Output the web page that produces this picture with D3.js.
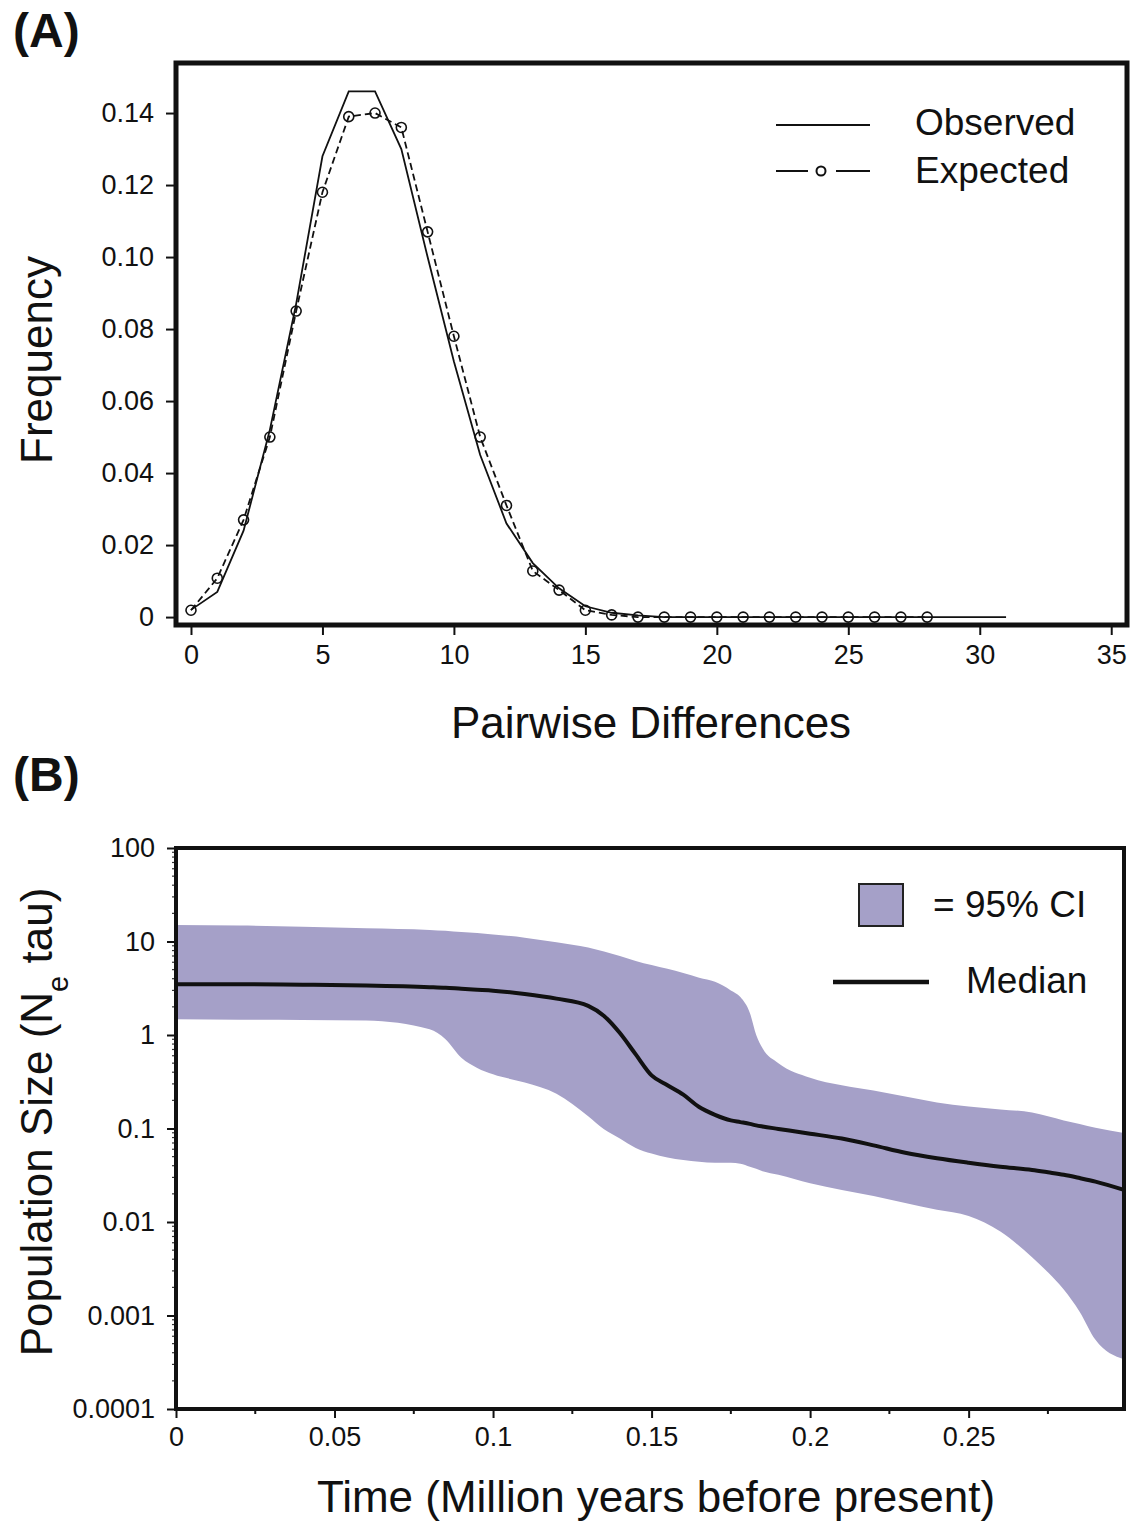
<!DOCTYPE html>
<html>
<head>
<meta charset="utf-8">
<script src="https://cdn.jsdelivr.net/npm/d3@7"></script>
<style>
  body { margin: 0; background: #fff; }
  svg text { font-family: "Liberation Sans", Arial, sans-serif; fill: #111; }
</style>
</head>
<body>
<svg id="chart" width="1142" height="1523"></svg>
<script>
'use strict';

// panel A: mismatch distribution
var pairDiffObs = d3.range(0, 32);
var observed = [0.002, 0.007, 0.024, 0.052, 0.087, 0.128, 0.146, 0.146, 0.130, 0.100,
  0.071, 0.045, 0.026, 0.015, 0.008, 0.003, 0.0012, 0.0005, 0, 0,
  0, 0, 0, 0, 0, 0, 0, 0, 0, 0, 0, 0];
var pairDiffExp = d3.range(0, 29);
var expected = [0.0019, 0.0108, 0.027, 0.050, 0.085, 0.118, 0.139, 0.140, 0.136, 0.107,
  0.078, 0.050, 0.031, 0.0128, 0.0075, 0.0019, 0.0006, 0, 0, 0,
  0, 0, 0, 0, 0, 0, 0, 0, 0];
var freqTicks = [0, 0.02, 0.04, 0.06, 0.08, 0.10, 0.12, 0.14];
var diffTicks = [0, 5, 10, 15, 20, 25, 30, 35];

// panel B: skyline plot
var timeGrid = [0, 0.02, 0.04, 0.06, 0.08, 0.085, 0.09, 0.095, 0.10, 0.11,
  0.12, 0.13, 0.135, 0.14, 0.145, 0.15, 0.155, 0.16, 0.165, 0.17,
  0.175, 0.178, 0.181, 0.183, 0.185, 0.19, 0.20, 0.21, 0.22, 0.23,
  0.24, 0.25, 0.26, 0.27, 0.275, 0.28, 0.285, 0.29, 0.299];
var ciUpper = [15.0, 14.8, 14.4, 13.9, 13.3, 13.0, 12.6, 12.3, 11.9, 11.0,
  9.8, 8.6, 7.8, 7.0, 6.2, 5.6, 5.1, 4.6, 4.1, 3.7,
  3.0, 2.55, 1.72, 1.0, 0.72, 0.50, 0.35, 0.29, 0.255, 0.22,
  0.19, 0.172, 0.16, 0.148, 0.135, 0.122, 0.112, 0.102, 0.0895];
var ciLower = [1.47, 1.46, 1.45, 1.43, 1.15, 0.9, 0.57, 0.445, 0.38, 0.31,
  0.235, 0.135, 0.098, 0.078, 0.062, 0.054, 0.049, 0.046, 0.044, 0.043,
  0.043, 0.042, 0.039, 0.037, 0.035, 0.032, 0.026, 0.022, 0.019, 0.016,
  0.0135, 0.0116, 0.0079, 0.0042, 0.0029, 0.0019, 0.0011, 0.00055, 0.00034];
var median = [3.5, 3.5, 3.45, 3.38, 3.25, 3.2, 3.12, 3.05, 2.98, 2.75,
  2.45, 2.05, 1.6, 1.05, 0.62, 0.37, 0.29, 0.23, 0.17, 0.14,
  0.122, 0.117, 0.112, 0.108, 0.105, 0.099, 0.088, 0.078, 0.066, 0.055,
  0.048, 0.043, 0.039, 0.036, 0.034, 0.032, 0.0295, 0.027, 0.022];
var sizeTicks = [0.0001, 0.001, 0.01, 0.1, 1, 10, 100];
var sizeTickLabels = ['0.0001', '0.001', '0.01', '0.1', '1', '10', '100'];
var timeTicks = [0, 0.05, 0.1, 0.15, 0.2, 0.25];
var timeMinorTicks = [0.025, 0.075, 0.125, 0.175, 0.225, 0.275];

var svg = d3.select('#chart');
var ciColor = '#a5a0c8';

function drawPanelA() {
  var x = d3.scaleLinear().domain([-0.57, 35.6]).range([176, 1127]);
  var y = d3.scaleLinear().domain([-0.0022, 0.1539]).range([625, 63]);
  var g = svg.append('g');

  var yAxis = g.append('g')
    .attr('transform', 'translate(176,0)')
    .call(d3.axisLeft(y).tickValues(freqTicks).tickSize(10).tickPadding(12)
      .tickFormat(function (d) { return d === 0 ? '0' : d3.format('.2f')(d); }));
  var xAxis = g.append('g')
    .attr('transform', 'translate(0,625)')
    .call(d3.axisBottom(x).tickValues(diffTicks).tickSize(10).tickPadding(10));
  [yAxis, xAxis].forEach(function (a) {
    a.select('.domain').remove();
    a.selectAll('line').attr('stroke', '#111').attr('stroke-width', 2);
    a.selectAll('text').style('font-size', '27px').attr('fill', '#111');
  });

  var obsLine = d3.line()
    .x(function (d, i) { return x(pairDiffObs[i]); })
    .y(function (d) { return y(d); });
  g.append('path')
    .attr('d', obsLine(observed))
    .attr('fill', 'none').attr('stroke', '#111').attr('stroke-width', 1.8);

  var expLine = d3.line()
    .x(function (d, i) { return x(pairDiffExp[i]); })
    .y(function (d) { return y(d); });
  g.append('path')
    .attr('d', expLine(expected))
    .attr('fill', 'none').attr('stroke', '#111').attr('stroke-width', 1.8)
    .attr('stroke-dasharray', '7,4');
  g.selectAll('circle.exp').data(expected).enter().append('circle')
    .attr('class', 'exp')
    .attr('cx', function (d, i) { return x(pairDiffExp[i]); })
    .attr('cy', function (d) { return y(d); })
    .attr('r', 5)
    .attr('fill', 'none').attr('stroke', '#111').attr('stroke-width', 1.6);

  // frame
  g.append('rect')
    .attr('x', 176).attr('y', 63).attr('width', 951).attr('height', 562)
    .attr('fill', 'none').attr('stroke', '#111').attr('stroke-width', 5);

  // legend
  g.append('line').attr('x1', 776).attr('x2', 870).attr('y1', 125).attr('y2', 125)
    .attr('stroke', '#111').attr('stroke-width', 2);
  g.append('text').attr('x', 915).attr('y', 135).style('font-size', '37px').text('Observed');
  g.append('line').attr('x1', 776).attr('x2', 808).attr('y1', 171).attr('y2', 171)
    .attr('stroke', '#111').attr('stroke-width', 2);
  g.append('line').attr('x1', 836).attr('x2', 870).attr('y1', 171).attr('y2', 171)
    .attr('stroke', '#111').attr('stroke-width', 2);
  g.append('circle').attr('cx', 821).attr('cy', 171).attr('r', 4.5)
    .attr('fill', 'none').attr('stroke', '#111').attr('stroke-width', 2);
  g.append('text').attr('x', 915).attr('y', 183).style('font-size', '37px').text('Expected');

  // titles
  g.append('text').attr('x', 651).attr('y', 738).attr('text-anchor', 'middle')
    .style('font-size', '44px').text('Pairwise Differences');
  g.append('text').attr('transform', 'translate(52,360) rotate(-90)')
    .attr('text-anchor', 'middle').style('font-size', '44px').text('Frequency');
  g.append('text').attr('x', 13).attr('y', 47)
    .style('font-size', '48px').style('font-weight', 'bold').text('(A)');
}

function drawPanelB() {
  var x = d3.scaleLinear().domain([0, 0.299]).range([176, 1124]);
  var y = d3.scaleLog().domain([0.0001, 100]).range([1409, 848]);
  var g = svg.append('g');

  var band = d3.area()
    .x(function (d, i) { return x(timeGrid[i]); })
    .y0(function (d, i) { return y(ciLower[i]); })
    .y1(function (d, i) { return y(ciUpper[i]); })
    .curve(d3.curveMonotoneX);
  g.append('path').attr('d', band(timeGrid)).attr('fill', ciColor);

  var medLine = d3.line()
    .x(function (d, i) { return x(timeGrid[i]); })
    .y(function (d) { return y(d); })
    .curve(d3.curveMonotoneX);
  g.append('path').attr('d', medLine(median))
    .attr('fill', 'none').attr('stroke', '#111').attr('stroke-width', 4);

  // minor ticks (log decades on y, half steps on x)
  var minorY = [];
  sizeTicks.slice(0, -1).forEach(function (t) {
    for (var k = 2; k < 10; ++k) minorY.push(t * k);
  });
  g.selectAll('line.ymin').data(minorY).enter().append('line')
    .attr('x1', 172).attr('x2', 176)
    .attr('y1', function (d) { return y(d); }).attr('y2', function (d) { return y(d); })
    .attr('stroke', '#333').attr('stroke-width', 1.2);
  g.selectAll('line.xmin').data(timeMinorTicks).enter().append('line')
    .attr('x1', function (d) { return x(d); }).attr('x2', function (d) { return x(d); })
    .attr('y1', 1409).attr('y2', 1414)
    .attr('stroke', '#111').attr('stroke-width', 2);

  var yAxis = g.append('g')
    .attr('transform', 'translate(176,0)')
    .call(d3.axisLeft(y).tickValues(sizeTicks).tickSize(9).tickPadding(12)
      .tickFormat(function (d, i) { return sizeTickLabels[i]; }));
  var xAxis = g.append('g')
    .attr('transform', 'translate(0,1409)')
    .call(d3.axisBottom(x).tickValues(timeTicks).tickSize(9).tickPadding(9)
      .tickFormat(function (d) { return d === 0 ? '0' : String(d); }));
  [yAxis, xAxis].forEach(function (a) {
    a.select('.domain').remove();
    a.selectAll('line').attr('stroke', '#111').attr('stroke-width', 2);
    a.selectAll('text').style('font-size', '27px').attr('fill', '#111');
  });

  g.append('rect')
    .attr('x', 176).attr('y', 848).attr('width', 948).attr('height', 561)
    .attr('fill', 'none').attr('stroke', '#111').attr('stroke-width', 4);

  // legend
  g.append('rect').attr('x', 859).attr('y', 884).attr('width', 44).attr('height', 42)
    .attr('fill', ciColor).attr('stroke', '#222').attr('stroke-width', 2);
  g.append('text').attr('x', 933).attr('y', 917).style('font-size', '37px').text('= 95% CI');
  g.append('line').attr('x1', 833).attr('x2', 929).attr('y1', 982).attr('y2', 982)
    .attr('stroke', '#111').attr('stroke-width', 4.5);
  g.append('text').attr('x', 966).attr('y', 993).style('font-size', '37px').text('Median');

  // titles
  g.append('text').attr('x', 656).attr('y', 1512).attr('text-anchor', 'middle')
    .style('font-size', '44px').text('Time (Million years before present)');
  var yt = g.append('text').attr('transform', 'translate(52,1122) rotate(-90)')
    .attr('text-anchor', 'middle').style('font-size', '44px');
  yt.append('tspan').text('Population Size (N');
  yt.append('tspan').attr('baseline-shift', 'sub').style('font-size', '29px').text('e');
  yt.append('tspan').text(' tau)');
  g.append('text').attr('x', 13).attr('y', 791)
    .style('font-size', '48px').style('font-weight', 'bold').text('(B)');
}

drawPanelA();
drawPanelB();
</script>
</body>
</html>
